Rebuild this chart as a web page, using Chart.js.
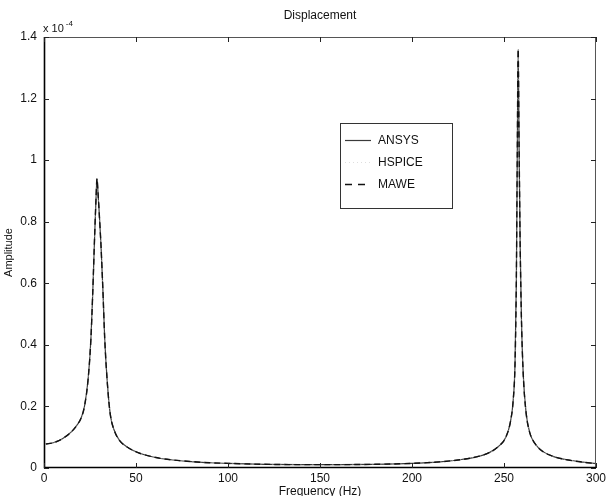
<!DOCTYPE html>
<html>
<head>
<meta charset="utf-8">
<script src="https://cdn.jsdelivr.net/npm/chart.js@4/dist/chart.umd.min.js"></script>
<style>
  html, body { margin: 0; padding: 0; background: #fff; }
  #wrap { width: 609px; height: 496px; position: relative; }
</style>
</head>
<body>
<div id="wrap"><canvas id="c" width="609" height="496"></canvas></div>
<script>
// Frequency (Hz)
const freqs = [1, 5, 10, 15, 18, 20, 22, 24, 25.5, 26.5, 27.5, 28.3, 28.8, 29.3, 30, 31, 32, 33, 34.5, 36, 38, 41, 46, 52, 60, 70, 80, 90, 100, 120, 140, 160, 180, 200, 215, 225, 235, 242, 247, 251, 253.5, 255, 256, 256.7, 257.2, 257.7, 258.2, 258.8, 259.5, 260.5, 262, 264, 267, 271, 277, 285, 293, 300];
// Amplitude, in units of 1e-4
const ansys = [0.078, 0.082, 0.095, 0.118, 0.14, 0.16, 0.2, 0.29, 0.42, 0.57, 0.75, 0.88, 0.94, 0.9, 0.83, 0.72, 0.58, 0.42, 0.27, 0.175, 0.125, 0.09, 0.065, 0.048, 0.035, 0.026, 0.021, 0.017, 0.015, 0.012, 0.011, 0.011, 0.012, 0.015, 0.02, 0.026, 0.036, 0.05, 0.07, 0.1, 0.15, 0.22, 0.34, 0.6, 1.0, 1.36, 1.05, 0.72, 0.48, 0.3, 0.18, 0.115, 0.078, 0.054, 0.037, 0.026, 0.019, 0.014];
const hspice = [0.078, 0.082, 0.095, 0.118, 0.14, 0.16, 0.2, 0.29, 0.42, 0.57, 0.75, 0.88, 0.94, 0.9, 0.83, 0.72, 0.58, 0.42, 0.27, 0.175, 0.125, 0.09, 0.065, 0.048, 0.035, 0.026, 0.021, 0.017, 0.015, 0.012, 0.011, 0.011, 0.012, 0.015, 0.02, 0.026, 0.036, 0.05, 0.07, 0.1, 0.15, 0.22, 0.34, 0.6, 1.0, 1.36, 1.05, 0.72, 0.48, 0.3, 0.18, 0.115, 0.078, 0.054, 0.037, 0.026, 0.019, 0.014];
const mawe = [0.078, 0.082, 0.095, 0.118, 0.14, 0.16, 0.2, 0.29, 0.42, 0.57, 0.75, 0.88, 0.94, 0.9, 0.83, 0.72, 0.58, 0.42, 0.27, 0.175, 0.125, 0.09, 0.065, 0.048, 0.035, 0.026, 0.021, 0.017, 0.015, 0.012, 0.011, 0.011, 0.012, 0.015, 0.02, 0.026, 0.036, 0.05, 0.07, 0.1, 0.15, 0.22, 0.34, 0.6, 1.0, 1.36, 1.05, 0.72, 0.48, 0.3, 0.18, 0.115, 0.078, 0.054, 0.037, 0.026, 0.019, 0.014];
const seriesNames = ['ANSYS', 'HSPICE', 'MAWE'];
const xTicks = [0, 50, 100, 150, 200, 250, 300];
const yTicks = [0, 0.2, 0.4, 0.6, 0.8, 1, 1.2, 1.4];
const titleText = 'Displacement';
const xTitle = 'Frequency (Hz)';
const yTitle = 'Amplitude';

const FONT = 'Liberation Sans, Arial, Helvetica, sans-serif';
const toPts = arr => freqs.map((f, i) => ({x: f, y: arr[i]}));

const frame = {
  id: 'frame',
  afterDraw(chart) {
    const {ctx, chartArea: a, scales: {x, y}} = chart;
    ctx.save();
    // box
    ctx.strokeStyle = '#555';
    ctx.lineWidth = 1;
    ctx.strokeRect(a.left + 0.5, a.top + 0.5, a.right - a.left - 1, a.bottom - a.top - 1);
    ctx.strokeStyle = '#000';
    ctx.lineWidth = 1.6;
    ctx.beginPath();
    ctx.moveTo(a.left + 0.5, a.top);
    ctx.lineTo(a.left + 0.5, a.bottom - 0.5);
    ctx.lineTo(a.right, a.bottom - 0.5);
    ctx.stroke();
    // inward ticks
    ctx.strokeStyle = '#222';
    ctx.lineWidth = 1;
    const L = 5;
    x.ticks.forEach((t, i) => {
      const px = Math.round(x.getPixelForTick(i)) + 0.5;
      ctx.beginPath();
      ctx.moveTo(px, a.bottom); ctx.lineTo(px, a.bottom - L);
      ctx.moveTo(px, a.top); ctx.lineTo(px, a.top + L);
      ctx.stroke();
    });
    y.ticks.forEach((t, i) => {
      const py = Math.round(y.getPixelForTick(i)) + 0.5;
      ctx.beginPath();
      ctx.moveTo(a.left, py); ctx.lineTo(a.left + L, py);
      ctx.moveTo(a.right, py); ctx.lineTo(a.right - L, py);
      ctx.stroke();
    });
    // exponent label
    ctx.fillStyle = '#111';
    ctx.textBaseline = 'alphabetic';
    ctx.textAlign = 'left';
    ctx.font = '11px ' + FONT;
    ctx.fillText('x 10', a.left - 1, a.top - 5);
    const w = ctx.measureText('x 10').width;
    ctx.font = '8px ' + FONT;
    ctx.fillText('-4', a.left - 1 + w + 2, a.top - 11);

    // legend box
    const bx = 340, by = 123, bw = 112, bh = 85;
    ctx.fillStyle = '#fff';
    ctx.fillRect(bx, by, bw, bh);
    ctx.strokeStyle = '#333';
    ctx.lineWidth = 1;
    ctx.strokeRect(bx + 0.5, by + 0.5, bw, bh);
    const rows = [140, 162, 184];
    chart.data.datasets.forEach((ds, i) => {
      const yy = rows[i] + 0.5;
      ctx.save();
      ctx.strokeStyle = ds.borderColor;
      ctx.lineWidth = ds.borderWidth;
      ctx.setLineDash(ds.legendDash || []);
      ctx.beginPath();
      ctx.moveTo(345, yy); ctx.lineTo(371, yy);
      ctx.stroke();
      ctx.restore();
      ctx.fillStyle = '#111';
      ctx.font = '12px ' + FONT;
      ctx.textBaseline = 'middle';
      ctx.fillText(ds.label, 378, yy);
    });
    ctx.restore();
  }
};

new Chart(document.getElementById('c'), {
  type: 'line',
  data: {
    datasets: [
      {label: seriesNames[0], data: toPts(ansys), borderColor: '#3a3a3a', borderWidth: 1.2, pointRadius: 0, cubicInterpolationMode: 'monotone', order: 3},
      {label: seriesNames[1], data: toPts(hspice), borderColor: 'rgba(200,200,200,0.6)', borderWidth: 1, borderDash: [1, 3], legendDash: [1, 3], pointRadius: 0, cubicInterpolationMode: 'monotone', order: 2},
      {label: seriesNames[2], data: toPts(mawe), borderColor: '#111', borderWidth: 1.4, borderDash: [6, 4], legendDash: [7, 6], pointRadius: 0, cubicInterpolationMode: 'monotone', order: 1}
    ]
  },
  options: {
    responsive: false,
    animation: false,
    events: [],
    layout: {padding: {left: 0, right: 12, top: 0, bottom: 0}},
    plugins: {
      legend: {display: false},
      tooltip: {enabled: false},
      title: {
        display: true, text: titleText, color: '#111', fullSize: false,
        font: {family: FONT, size: 12, weight: 'normal'},
        padding: {top: 8, bottom: 14.6}
      }
    },
    scales: {
      x: {
        type: 'linear', min: 0, max: 300,
        afterBuildTicks: s => { s.ticks = xTicks.map(v => ({value: v})); },
        afterFit: s => { s.height = 28; },
        grid: {display: false, drawTicks: false},
        border: {display: false},
        ticks: {color: '#111', font: {family: FONT, size: 12}, padding: 3, maxRotation: 0, autoSkip: false, callback: v => String(v)},
        title: {display: true, text: xTitle, color: '#111', font: {family: FONT, size: 12}, padding: {top: 0, bottom: -3}}
      },
      y: {
        type: 'linear', min: 0, max: 1.4,
        afterBuildTicks: s => { s.ticks = yTicks.map(v => ({value: v})); },
        afterFit: s => { s.width = 44; },
        grid: {display: false, drawTicks: false},
        border: {display: false},
        ticks: {color: '#111', font: {family: FONT, size: 12}, padding: 7, autoSkip: false, callback: v => String(Math.round(v * 10) / 10)},
        title: {display: true, text: yTitle, color: '#111', font: {family: FONT, size: 11}, padding: {top: 2, bottom: 0}}
      }
    }
  },
  plugins: [frame]
});
</script>
</body>
</html>
